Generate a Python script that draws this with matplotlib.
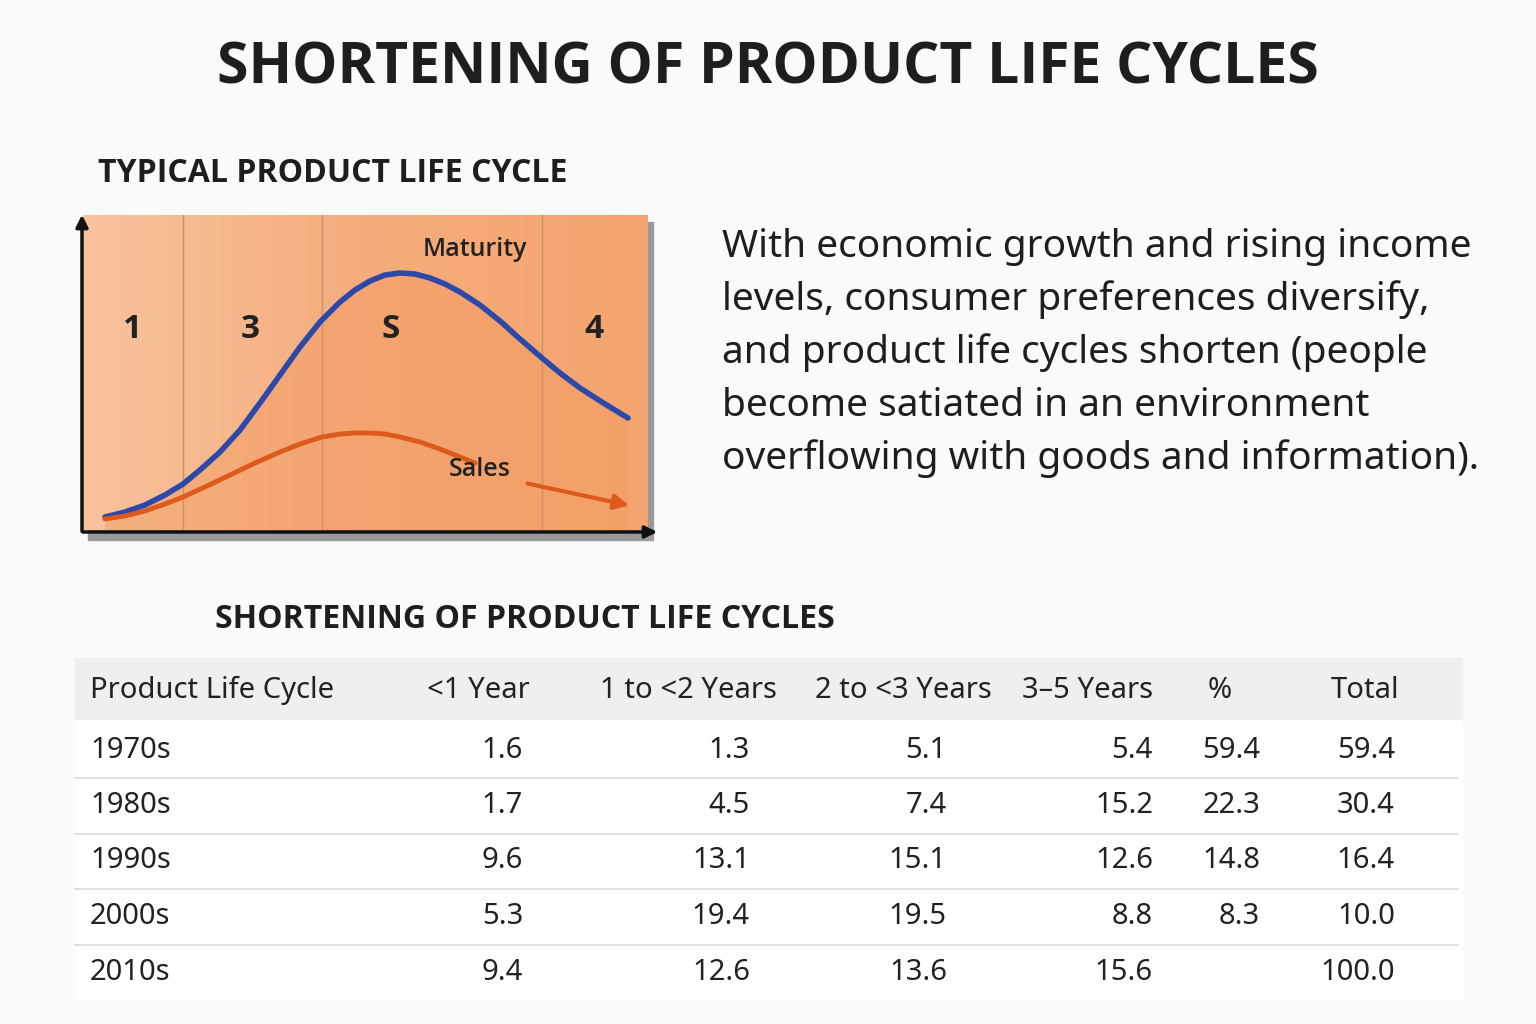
import matplotlib
matplotlib.use("Agg")
import matplotlib.pyplot as plt
import numpy as np
from matplotlib.colors import LinearSegmentedColormap

plt.rcParams['font.family'] = ['Noto Sans', 'DejaVu Sans']
BOLD = ['Open Sans', 'Lato', 'DejaVu Sans']

title = "SHORTENING OF PRODUCT LIFE CYCLES"
chart_title = "TYPICAL PRODUCT LIFE CYCLE"
table_title = "SHORTENING OF PRODUCT LIFE CYCLES"
paragraph = ["With economic growth and rising income",
             "levels, consumer preferences diversify,",
             "and product life cycles shorten (people",
             "become satiated in an environment",
             "overflowing with goods and information)."]
stage_labels = ["1", "3", "S", "4"]
stage_x = [133, 250, 391, 594]
divider_x = [183, 322, 542]
maturity_x = [105, 125, 145, 165, 183, 200, 220, 240, 260, 280, 300, 320, 340, 355, 370,
              385, 400, 415, 430, 445, 460, 480, 500, 520, 542, 560, 580, 605, 628]
maturity_y = [517, 512, 505, 495, 484, 470, 452, 430, 403, 375, 347, 322, 302, 290, 281,
              275, 273, 274, 278, 284, 292, 305, 321, 339, 358, 373, 388, 404, 418]
sales_x = [105, 125, 145, 165, 183, 205, 230, 255, 280, 300, 322, 340, 355, 370, 385,
           400, 420, 440, 460, 475]
sales_y = [519, 516, 511, 504, 497, 487, 475, 463, 452, 444, 437, 434, 433, 433, 434,
           437, 442, 449, 457, 463]

headers = ["Product Life Cycle", "<1 Year", "1 to <2 Years", "2 to <3 Years", "3\u20135 Years", "%", "Total"]
rows = ["1970s", "1980s", "1990s", "2000s", "2010s"]
lt1 = ["1.6", "1.7", "9.6", "5.3", "9.4"]
y1_2 = ["1.3", "4.5", "13.1", "19.4", "12.6"]
y2_3 = ["5.1", "7.4", "15.1", "19.5", "13.6"]
y3_5 = ["5.4", "15.2", "12.6", "8.8", "15.6"]
pct = ["59.4", "22.3", "14.8", "8.3", ""]
total = ["59.4", "30.4", "16.4", "10.0", "100.0"]

fig = plt.figure(figsize=(15.36, 10.24), dpi=100, facecolor="#fbfaf8")
ax = fig.add_axes([0, 0, 1, 1])
ax.set_xlim(0, 1536); ax.set_ylim(1024, 0); ax.axis("off")

ax.text(768, 68, title, ha="center", va="center", fontsize=41, fontweight="bold",
        family=BOLD, color="#1e1e1e")
ax.text(98, 173, chart_title, ha="left", va="center", fontsize=23, fontweight="bold",
        family=BOLD, color="#1e1e1e")

ax.add_patch(plt.Rectangle((88, 222), 565, 318, color="#9a9a9a", zorder=1))
grad = np.linspace(0, 1, 256).reshape(1, -1)
cm = LinearSegmentedColormap.from_list("o", ["#f8c39e", "#f5ac7c", "#f4a56f"])
ax.imshow(grad, cmap=cm, extent=(83, 648, 530, 215), aspect="auto", zorder=2)
ax.fill_between(maturity_x, maturity_y, 530, color="#f29a60", alpha=0.45, zorder=3, lw=0)
for x in divider_x:
    ax.plot([x, x], [215, 530], color="#c98f6a", lw=1, zorder=3)
for x, s in zip(stage_x, stage_labels):
    ax.text(x, 330, s, ha="center", va="center", fontsize=24, fontweight="bold",
            family=BOLD, color="#222", zorder=5)
ax.plot(maturity_x, maturity_y, color="#2c48a8", lw=4, zorder=6, solid_capstyle="round")
ax.plot(sales_x, sales_y, color="#dc5a1a", lw=3.5, zorder=6, solid_capstyle="round")
ax.annotate("", xy=(632, 506), xytext=(525, 483),
            arrowprops=dict(arrowstyle="-|>", color="#dc5a1a", lw=3, mutation_scale=22), zorder=6)
ax.text(475, 249, "Maturity", ha="center", va="center", fontsize=18, fontweight="semibold",
        family=BOLD, color="#222", zorder=6)
ax.text(480, 470, "Sales", ha="center", va="center", fontsize=18, fontweight="semibold",
        family=BOLD, color="#222", zorder=6)
ax.annotate("", xy=(660, 532), xytext=(80, 532),
            arrowprops=dict(arrowstyle="-|>", color="#111", lw=2.5, mutation_scale=18), zorder=7)
ax.annotate("", xy=(82, 212), xytext=(82, 534),
            arrowprops=dict(arrowstyle="-|>", color="#111", lw=2.5, mutation_scale=18), zorder=7)

for i, line in enumerate(paragraph):
    ax.text(722, 247 + i * 53, line, ha="left", va="center", fontsize=28, color="#1e1e1e")

ax.text(215, 619, table_title, ha="left", va="center", fontsize=23, fontweight="bold",
        family=BOLD, color="#1e1e1e")
ax.add_patch(plt.Rectangle((75, 658), 1387, 62, color="#efefef", zorder=1))
ax.add_patch(plt.Rectangle((75, 720), 1387, 278, color="#ffffff", zorder=1))
hx = [90, 478, 688, 903, 1088, 1220, 1365]
hha = ["left", "center", "center", "center", "center", "center", "center"]
for x, h, a in zip(hx, headers, hha):
    ax.text(x, 690, h, ha=a, va="center", fontsize=21, color="#222", zorder=3)
vx = [523, 750, 947, 1153, 1260, 1395]
cols = [lt1, y1_2, y2_3, y3_5, pct, total]
for r, name in enumerate(rows):
    y = 750 + r * 55.5
    ax.text(90, y, name, ha="left", va="center", fontsize=21, color="#222", zorder=3)
    for x, c in zip(vx, cols):
        ax.text(x, y, c[r], ha="right", va="center", fontsize=21, color="#222", zorder=3)
    if r < len(rows) - 1:
        ax.plot([75, 1458], [y + 28, y + 28], color="#dcdcdc", lw=1.2, zorder=2)

fig.savefig("out.png", dpi=100, facecolor=fig.get_facecolor())
